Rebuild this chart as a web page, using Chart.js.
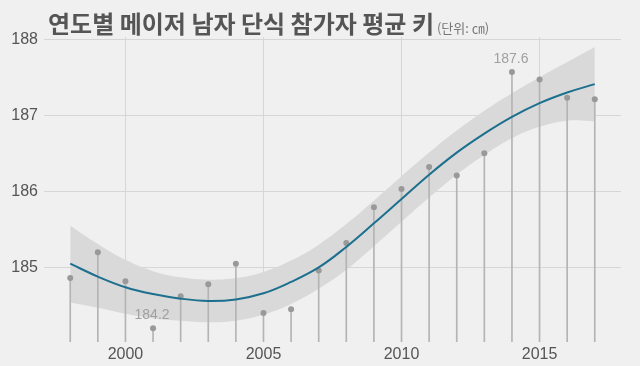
<!DOCTYPE html>
<html>
<head>
<meta charset="utf-8">
<script src="https://cdn.jsdelivr.net/npm/chart.js@4.4.0/dist/chart.umd.min.js"></script>
<style>
    html, body { margin: 0; padding: 0; background: #f0f0f0; }
    #wrap { position: relative; width: 640px; height: 366px; }
    #title {
        position: absolute; left: 48px; top: 8px; z-index: 2;
        font-family: 'Noto Sans CJK KR', sans-serif; font-weight: 700;
        font-size: 24px; line-height: 30px; letter-spacing: 0; color: #555;
        white-space: nowrap;
    }
    #title small {
        font-size: 13px; font-weight: 400; color: #777;
        margin-left: 3px;
    }
</style>
</head>
<body>
<div id="wrap">
    <div id="title">연도별 메이저 남자 단식 참가자 평균 키<small>(단위: ㎝)</small></div>
    <canvas id="chart" width="640" height="366"></canvas>
</div>
<script>
// yearly average height of major men's singles players
const years = [1998, 1999, 2000, 2001, 2002, 2003, 2004, 2005, 2006, 2007,
               2008, 2009, 2010, 2011, 2012, 2013, 2014, 2015, 2016, 2017];
const heights = [184.86, 185.20, 184.82, 184.20, 184.62, 184.78, 185.05, 184.40, 184.45, 184.96,
                 185.32, 185.79, 186.03, 186.32, 186.21, 186.50, 187.57, 187.47, 187.23, 187.21];

// smoothed trend (loess) and its confidence band
const trend = [185.05, 184.88, 184.74, 184.65, 184.59, 184.56, 184.58, 184.66, 184.81, 185.00,
               185.27, 185.58, 185.90, 186.22, 186.51, 186.76, 186.98, 187.16, 187.30, 187.41];
const bandUpper = [185.55, 185.31, 185.10, 184.95, 184.87, 184.84, 184.86, 184.94, 185.09, 185.30,
                   185.57, 185.88, 186.20, 186.51, 186.80, 187.06, 187.29, 187.50, 187.70, 187.90];
const bandLower = [184.54, 184.47, 184.39, 184.33, 184.30, 184.28, 184.30, 184.38, 184.52, 184.72,
                   184.97, 185.28, 185.60, 185.92, 186.22, 186.48, 186.70, 186.85, 186.93, 186.92];

// labelled extremes
const labelYears = [2001, 2014];
const labelTexts = ['184.2', '187.6'];

const xTicks = [2000, 2005, 2010, 2015];
const yTicks = [185, 186, 187, 188];
const xMin = 1997.05, xMax = 2017.95;
const yMin = 184.02, yMax = 188.03;

const tickFont = { family: "'Liberation Sans Narrow', 'Liberation Sans', sans-serif", size: 16 };

const toPoints = (vals) => years.map((yr, i) => ({ x: yr, y: vals[i] }));

// text labels above the two extreme points
const labelPlugin = {
    id: 'extremeLabels',
    afterDatasetsDraw(chart) {
        const { ctx, scales } = chart;
        ctx.save();
        ctx.font = "14px 'Liberation Sans Narrow', 'Liberation Sans', sans-serif";
        ctx.fillStyle = '#a0a0a0';
        ctx.textAlign = 'center';
        ctx.textBaseline = 'middle';
        labelYears.forEach((yr, i) => {
            const idx = years.indexOf(yr);
            const px = scales.x.getPixelForValue(yr);
            const py = scales.y.getPixelForValue(heights[idx]);
            ctx.fillText(labelTexts[i], px - 1, py - 13);
        });
        ctx.restore();
    }
};

new Chart(document.getElementById('chart'), {
    type: 'line',
    data: {
        datasets: [
            {
                label: 'upper',
                data: toPoints(bandUpper),
                borderWidth: 0,
                pointRadius: 0,
                tension: 0.4,
                fill: '+1',
                backgroundColor: '#d9d9d9',
                order: 5
            },
            {
                label: 'lower',
                data: toPoints(bandLower),
                borderWidth: 0,
                pointRadius: 0,
                tension: 0.4,
                fill: false,
                order: 4
            },
            {
                type: 'bar',
                label: 'stems',
                data: years.map((yr, i) => ({ x: yr, y: [yMin, heights[i]] })),
                backgroundColor: '#b4b4b4',
                barThickness: 1,
                order: 3
            },
            {
                type: 'scatter',
                label: 'height',
                data: toPoints(heights),
                pointRadius: 3,
                pointBackgroundColor: '#999999',
                pointBorderWidth: 0,
                order: 2
            },
            {
                label: 'trend',
                data: toPoints(trend),
                borderColor: '#1d6f8e',
                borderWidth: 2,
                pointRadius: 0,
                tension: 0.4,
                fill: false,
                order: 1
            }
        ]
    },
    options: {
        responsive: false,
        animation: false,
        layout: { padding: { top: 37, right: 19, left: 0, bottom: 0 } },
        plugins: {
            legend: { display: false },
            tooltip: { enabled: false },
            title: { display: false }
        },
        scales: {
            x: {
                type: 'linear',
                min: xMin,
                max: xMax,
                offset: false,
                afterBuildTicks: (scale) => { scale.ticks = xTicks.map(v => ({ value: v })); },
                afterFit: (scale) => { scale.height = 24; },
                ticks: {
                    font: tickFont, color: '#555', padding: 3, maxRotation: 0,
                    callback: (v) => String(v)
                },
                grid: { color: '#d6d6d6', drawTicks: false, offset: false },
                border: { display: false }
            },
            y: {
                min: yMin,
                max: yMax,
                afterBuildTicks: (scale) => { scale.ticks = yTicks.map(v => ({ value: v })); },
                afterFit: (scale) => { scale.width = 44; },
                ticks: { font: tickFont, color: '#555', padding: 6 },
                grid: { color: '#d6d6d6', drawTicks: false },
                border: { display: false }
            }
        }
    },
    plugins: [labelPlugin]
});
</script>
</body>
</html>
